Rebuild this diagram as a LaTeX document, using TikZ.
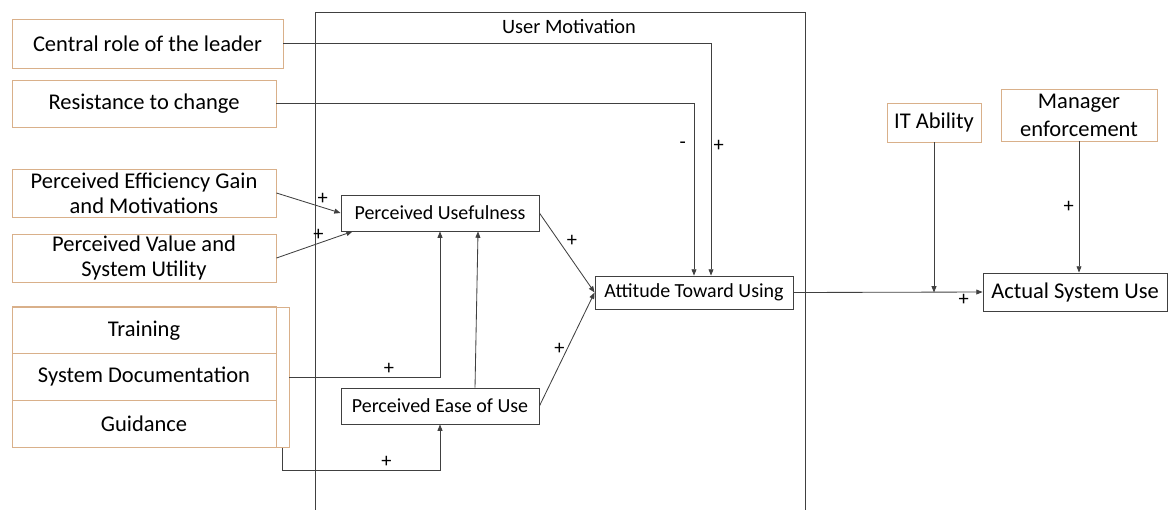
\documentclass[tikz,border=0pt]{standalone}
\usepackage{fontspec}
\setmainfont{Carlito}
\usetikzlibrary{arrows.meta,calc}

\definecolor{boxorange}{HTML}{D9B08A}
\definecolor{linegray}{HTML}{404040}

\tikzset{
  sizes/.style 2 args={minimum width={#1*0.025cm}, minimum height={#2*0.025cm}},
  factor/.style={draw=boxorange, line width=0.7pt, inner sep=1pt, align=center, font=\fontsize{16}{17.5}\selectfont},
  construct/.style={draw=linegray, line width=0.6pt, inner sep=1pt, align=center, font=\fontsize{14.2}{16}\selectfont},
  link/.style={draw=linegray, line width=0.6pt, -{Triangle[length=4.5pt,width=3.5pt]}},
  sign/.style={inner sep=1.5pt, font=\fontsize{14.5}{16}\selectfont}
}

\begin{document}
\begin{tikzpicture}[x=0.025cm, y=-0.025cm]
  \useasboundingbox (0,0) rectangle (1169,509);

  % user motivation frame
  \draw[linegray, line width=0.6pt] (315,520) -- (315,12) -- (805,12) -- (805,520);
  \node[sign] (umlabel) at (569,27) {User Motivation};

  % external factors
  \node[factor, sizes={271}{49}] (lead) at (147.5,43.5) {Central role of the leader};
  \node[factor, sizes={264}{47}] (resist) at (144,103.5) {Resistance to change};
  \node[factor, sizes={264}{48}] (effic) at (144,193) {Perceived Efficiency Gain\\and Motivations};
  \node[factor, sizes={264}{48}] (value) at (144,258) {Perceived Value and\\System Utility};

  % support group
  \node[factor, sizes={277}{140}] (grp) at (150.5,377) {};
  \node[factor, sizes={264}{46.67}] (train) at (144,330.3) {Training};
  \node[factor, sizes={264}{46.67}] (sysdoc) at (144,377) {System Documentation};
  \node[factor, sizes={264}{46.67}] (guide) at (144,423.7) {Guidance};

  % TAM constructs
  \node[construct, sizes={198}{36}] (pu) at (440,213) {Perceived Usefulness};
  \node[construct, sizes={198}{36}] (peu) at (440,406) {Perceived Ease of Use};
  \node[construct, sizes={198}{33}] (att) at (694,292.5) {Attitude Toward Using};
  \node[construct, sizes={184}{38}, font=\fontsize{16}{17.5}\selectfont] (act) at (1075,292) {Actual System Use};

  % right side factors
  \node[factor, sizes={94}{39}] (itab) at (934,122.5) {IT Ability};
  \node[factor, sizes={156}{52}, font=\fontsize{16}{20}\selectfont] (mgr) at (1079,115) {Manager\\enforcement};

  % connectors
  \draw[link] (lead.east) -| ([xshift=0.425cm]att.north) node[sign, right, pos=0.72] {+};
  \draw[link] (resist.east) -| (att.north) node[sign, left, pos=0.62, xshift=-4pt] {-};
  \draw[link] (effic.east) -- (pu.west) node[sign, above, pos=0.72] {+};
  \draw[link] (value.east) -- ([xshift=0.3cm]pu.south west) node[sign, above, pos=0.55] {+};
  \draw[link] (grp.east) -| (pu.south) node[sign, above, pos=0.33] {+};
  \draw[link] ([xshift=-0.175cm]grp.south east) -- ++(0,23) -| (peu.south) node[sign, above, pos=0.33] {+};
  \draw[link] ([xshift=0.875cm]peu.north) -- ([xshift=0.95cm]pu.south);
  \draw[link] (pu.east) -- (att.west) node[sign, above right, pos=0.45] {+};
  \draw[link] (peu.east) -- (att.west) node[sign, left, pos=0.5] {+};
  \draw[link] (att.east) -- (act.west) node[sign, below, pos=0.9] {+};
  \draw[link] (itab.south) -- (itab.south |- att.east);
  \draw[link] (mgr.south) -- (mgr.south |- act.north) node[sign, left, pos=0.5, xshift=-2pt] {+};
\end{tikzpicture}
\end{document}
